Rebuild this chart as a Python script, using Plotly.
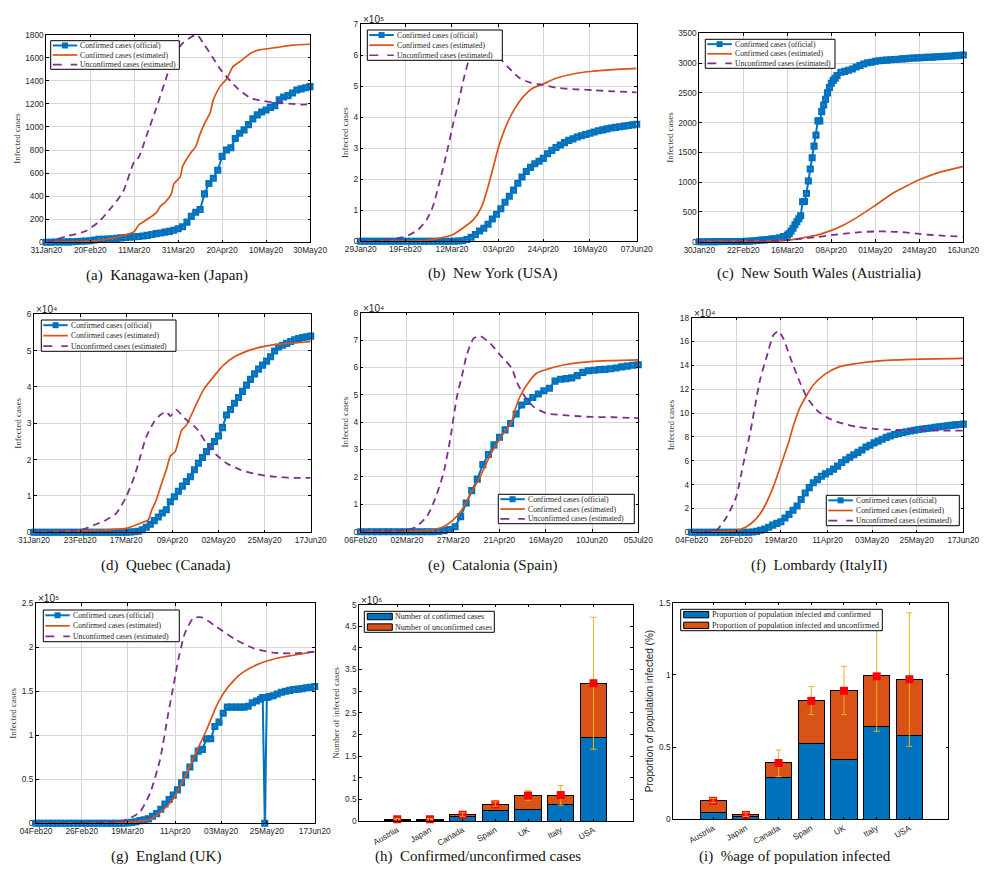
import plotly.graph_objects as go

W, H = 994, 869
BLUE, ORANGE, PURPLE, AMBER, RED = "#0072BD", "#D95319", "#7E2F8E", "#EDB120", "#FF0000"
TICK = "#262626"
SANS, SERIF = "Liberation Sans", "Liberation Serif"

LINE_LABELS = ["Confirmed cases (official)", "Confirmed cases (estimated)", "Unconfirmed cases (estimated)"]

# ---------------- (a) Kanagawa
a_ticks = ["31Jan20", "20Feb20", "11Mar20", "31Mar20", "20Apr20", "10May20", "30May20"]
a_tickdays = [0, 20, 40, 60, 80, 100, 120]
a_off_d = list(range(0, 121, 2))
a_off = [0,1,2,3,3,4,5,7,9,11,14,20,25,27,29,31,34,38,41,45,48,50,55,60,68,75,80,88,95,105,118,135,175,225,260,285,420,510,555,625,745,800,820,900,945,975,1020,1070,1105,1130,1147,1170,1185,1235,1260,1272,1295,1320,1330,1340,1350]
a_est_d = [0,20,30,40,42,46,50,52,54,57,58,61,62,65.5,68,70,72,74.5,76,79,82,85,88,93,97,105,112,120]
a_est = [0,10,35,92,150,200,255,315,345,425,505,570,655,770,830,940,1030,1120,1235,1350,1415,1525,1565,1640,1668,1690,1710,1717]
a_unc_d = [0,9,18,24,30,35,40,42,46,50,55,58,62,68.4,72,77,80,87,93,99,105,112,117,120]
a_unc = [0,50,98,180,310,440,700,735,945,1160,1450,1625,1725,1800,1710,1565,1480,1335,1250,1225,1210,1200,1193,1205]

# ---------------- (b) New York (x 10^5)
b_ticks = ["29Jan20", "19Feb20", "12Mar20", "03Apr20", "24Apr20", "16May20", "07Jun20"]
b_tickdays = [0, 21, 43, 65, 86, 108, 130]
b_off_d = list(range(0, 131, 2))
b_off = [0,0,0,0,0,0,0,0,0,0,0,0,0,0,0,0,0,0,0,0,0,0,0,.01,.02,.06,.13,.22,.33,.42,.55,.72,.87,1.05,1.26,1.45,1.65,1.87,2.07,2.25,2.38,2.5,2.58,2.67,2.82,2.93,3.02,3.1,3.18,3.25,3.3,3.36,3.4,3.44,3.48,3.52,3.56,3.59,3.62,3.65,3.67,3.69,3.71,3.73,3.75,3.77]
b_est_d = [0,30,37,43,48,53,57,60,62.5,65,69,72.7,76.6,81,86,92,100,108,119,130]
b_est = [0,.02,.1,.2,.42,.69,1.12,1.76,2.4,3.05,3.8,4.29,4.66,4.93,5.07,5.25,5.39,5.47,5.53,5.57]
b_unc_d = [0,10.7,21,27,31,34,37,40.5,43.6,46,48.4,50.7,53,56,61,66.4,70,75,80,86,92,100,109.6,119,130]
b_unc = [0,.04,.15,.37,.69,1.12,1.87,2.84,3.8,4.45,5.2,5.79,6.22,6.49,6.33,5.84,5.57,5.25,5.11,5.04,4.95,4.9,4.87,4.83,4.8]

# ---------------- (c) New South Wales
c_ticks = ["30Jan20", "22Feb20", "16Mar20", "08Apr20", "01May20", "24May20", "16Jun20"]
c_tickdays = [0, 23, 46, 69, 92, 115, 138]
c_off_d = list(range(0, 46, 2)) + list(range(46, 72)) + list(range(72, 139, 2))
c_off = [0,0,0,0,1,2,3,4,4,4,4,4,5,8,14,20,26,30,38,48,55,65,85,
         110,135,180,225,285,335,385,435,670,675,810,1020,1220,1410,1605,1790,2030,2030,2185,2295,2390,2500,2590,2660,2710,2745,
         2790,2845,2860,2880,2900,2935,2960,2985,3005,3015,3030,3040,3045,3050,3055,3060,3065,3070,3075,3080,3085,3088,3090,3095,3098,3100,3105,3108,3112,3115,3120,3125,3130,3135]
c_est_d = [0,23,46,55,62,69,76,82,92,100,108,115,125,138]
c_est = [0,8,25,70,115,190,290,400,610,790,930,1040,1160,1265]
c_unc_d = [0,23,46,55,62,69,76,84,92,100,108,115,125,138]
c_unc = [0,6,25,55,80,110,135,160,172,170,155,130,105,85]

# ---------------- (d) Quebec (x 10^4)
d_ticks = ["31Jan20", "23Feb20", "17Mar20", "09Apr20", "02May20", "25May20", "17Jun20"]
d_tickdays = [0, 23, 46, 69, 92, 115, 138]
d_off_d = list(range(0, 139, 2))
d_off = [0,0,0,0,0,0,0,0,0,0,0,0,0,0,0,0,0,0,0,0,0,0,0,.005,.01,.015,.03,
         .07,.14,.22,.32,.42,.53,.62,.84,.98,1.13,1.27,1.4,1.53,1.72,1.9,2.06,2.22,2.36,2.5,2.65,2.88,3.23,3.38,3.55,3.71,3.88,4.05,4.21,4.36,4.49,4.6,4.71,4.83,4.99,5.1,5.15,5.2,5.25,5.3,5.33,5.36,5.38,5.4]
d_est_d = [0,23,46,53,57,58.7,61,63.7,66,68,70.4,73.7,76,80.4,84.5,91,94.5,100,108,116,126,138]
d_est = [0,.04,.11,.25,.34,.61,.89,1.35,1.72,2.1,2.22,2.82,2.95,3.46,3.92,4.38,4.6,4.83,5.02,5.13,5.2,5.25]
d_unc_d = [0,23,30,36,41,46,50,53,56,60,63,66,68,71,75,81,86,91,96,103,111,119.5,129.5,138]
d_unc = [0,.06,.2,.34,.52,.98,1.53,2.08,2.63,3.05,3.23,3.32,3.2,3.37,3.14,2.86,2.45,2.13,1.9,1.72,1.6,1.53,1.5,1.5]

# ---------------- (e) Catalonia (x 10^4)
e_ticks = ["06Feb20", "02Mar20", "27Mar20", "21Apr20", "16May20", "10Jun20", "05Jul20"]
e_tickdays = [0, 25, 50, 75, 100, 125, 150]
e_off_d = list(range(0, 151, 3))
e_off = [0,0,0,0,0,0,0,0,0,0,0,0,0,0,.01,.04,
         .08,.18,.55,1.05,1.5,1.92,2.45,2.82,3.17,3.45,3.72,3.95,4.3,4.63,4.76,4.9,5.03,5.15,5.24,5.5,5.57,5.59,5.62,5.7,5.82,5.88,5.9,5.92,5.93,5.95,5.98,6.02,6.05,6.08,6.1]
e_est_d = [0,25,37.5,44.7,50,54.6,59,64.5,70,75.3,81.6,83.4,86,89.7,95,100.5,109.5,124,136.6,150]
e_est = [0,.01,.06,.18,.43,.79,1.34,2.0,2.8,3.41,4.02,4.45,4.93,5.36,5.79,5.93,6.09,6.21,6.25,6.28]
e_unc_d = [0,25,30,35.7,40,44.7,48.3,52,54.6,57.3,61,64.5,70,75.3,81.6,84.3,88,93.3,100.5,109.5,122,136.6,150]
e_unc = [0,.06,.18,.55,1.16,2.13,3.35,4.93,5.66,6.46,7.06,7.15,6.88,6.46,5.97,5.48,5.0,4.57,4.32,4.26,4.2,4.18,4.15]

# ---------------- (f) Lombardy (x 10^4)
f_ticks = ["04Feb20", "26Feb20", "19Mar20", "11Apr20", "03May20", "25May20", "17Jun20"]
f_tickdays = [0, 22, 44, 67, 89, 111, 134]
f_off_d = list(range(0, 135, 2))
f_off = [0,0,0,0,0,0,0,0,0,0,0,0,0,0,0,
         .02,.08,.17,.28,.42,.6,.75,.89,1.2,1.5,1.85,2.2,2.75,3.3,3.75,4.15,4.42,4.7,4.9,5.08,5.3,5.55,5.85,6.08,6.3,6.5,6.7,6.9,7.15,7.3,7.5,7.65,7.8,7.96,8.08,8.2,8.28,8.37,8.44,8.5,8.56,8.62,8.67,8.71,8.75,8.8,8.84,8.89,8.93,8.97,9.01,9.04,9.07]
f_est_d = [0,22,27,32,35.4,40.3,44,47.7,50,53.5,60,65.8,73,81.4,91.3,107.7,134]
f_est = [0,.14,.47,1.17,2.0,3.83,5.64,7.46,8.85,10.5,12.35,13.27,13.9,14.16,14.36,14.5,14.58]
f_unc_d = [0,12.3,17.3,22,25.5,28.8,33.7,37,40.3,42.8,45.2,48.5,52.6,56.7,61.7,66.6,73,81.4,91.3,102.8,116,134]
f_unc = [0,.2,1.31,3.0,5.78,8.3,12.77,14.72,16.54,16.87,16.26,14.72,12.9,11.37,10.25,9.64,9.19,8.85,8.66,8.58,8.55,8.52]

# ---------------- (g) England (x 10^5)
g_ticks = ["04Feb20", "26Feb20", "19Mar20", "11Apr20", "03May20", "25May20", "17Jun20"]
g_tickdays = [0, 22, 44, 67, 89, 111, 134]
g_off_d = list(range(0, 109, 2)) + [109, 110, 111] + list(range(112, 135, 2))
g_off = [0,0,0,0,0,0,0,0,0,0,0,0,0,0,0,0,0,0,0,0,0,0,
         .005,.01,.018,.03,.04,.05,.08,.11,.16,.22,.27,.32,.38,.46,.55,.64,.74,.82,.84,.96,.96,1.1,1.15,1.25,1.32,1.32,1.32,1.32,1.32,1.33,1.37,1.39,1.41,
         1.43,0,1.43,
         1.44,1.45,1.47,1.49,1.5,1.51,1.52,1.525,1.53,1.54,1.545,1.555]
g_est_d = [0,44,54.8,61,66,72.4,77,82,86.9,91.7,98,106,115.7,123.7,134]
g_est = [0,.01,.045,.15,.28,.57,.81,1.06,1.34,1.53,1.69,1.8,1.875,1.91,1.95]
g_unc_d = [0,37,44,50,54.8,59.6,63.6,66,68.4,71.6,75.6,79.6,86.9,96.5,104.5,114,123.7,134]
g_unc = [0,.015,.045,.13,.34,.72,1.25,1.55,1.86,2.16,2.33,2.34,2.23,2.08,1.99,1.94,1.93,1.95]

# ---------------- (h) and (i) bars
countries = ["Austrlia", "Japan", "Canada", "Spain", "UK", "Italy", "USA"]
h_confirmed = [.015, .015, .105, .25, .27, .385, 1.92]
h_unconfirmed = [.02, .02, .055, .14, .33, .215, 1.27]
h_mark = [.04, .04, .145, .385, .59, .6, 3.185]
h_low = [.03, .03, .11, .34, .48, .37, 1.66]
h_high = [.06, .06, .19, .44, .71, .82, 4.71]
i_confirmed = [.048, .02, .29, .525, .415, .64, .58]
i_unconfirmed = [.082, .015, .10, .295, .48, .355, .385]
i_mark = [.128, .03, .39, .82, .89, .99, .97]
i_low = [.115, .02, .295, .725, .725, .61, .505]
i_high = [.145, .045, .48, .92, 1.06, 1.38, 1.43]
h_legend = ["Number of confirmed cases", "Number of unconfirmed cases"]
i_legend = ["Proportion of population infected and confirmed", "Proportion of population infected and unconfirmed"]

# panel geometry in page pixels: left, right, top, bottom
panels = [
 dict(box=(46.3,310,34.7,242.3), xmax=120, ymax=1800, dy=200, ticks=a_ticks, tdays=a_tickdays, series=(a_off_d,a_off,a_est_d,a_est,a_unc_d,a_unc), leg=(50.7,179.3,40.7,69.3), cap="(a)  Kanagawa-ken (Japan)", capx=167, capy=275, exp=None),
 dict(box=(360.7,636.7,24,241.3), xmax=130, ymax=7, dy=1, ticks=b_ticks, tdays=b_tickdays, series=(b_off_d,b_off,b_est_d,b_est,b_unc_d,b_unc), leg=(367.3,502.3,30,60.3), cap="(b)  New York (USA)", capx=492.5, capy=274, exp="⁵"),
 dict(box=(699.3,963.3,33.3,241.7), xmax=138, ymax=3500, dy=500, ticks=c_ticks, tdays=c_tickdays, series=(c_off_d,c_off,c_est_d,c_est,c_unc_d,c_unc), leg=(705.3,835,39.3,68.3), cap="(c)  New South Wales (Austrialia)", capx=818.7, capy=274, exp=None),
 dict(box=(34,310.7,314.3,532.3), xmax=138, ymax=6, dy=1, ticks=d_ticks, tdays=d_tickdays, series=(d_off_d,d_off,d_est_d,d_est,d_unc_d,d_unc), leg=(41.3,176,320,351.3), cap="(d)  Quebec (Canada)", capx=166, capy=565, exp="⁴"),
 dict(box=(360.7,638.3,312.7,531.7), xmax=150, ymax=8, dy=1, ticks=e_ticks, tdays=e_tickdays, series=(e_off_d,e_off,e_est_d,e_est,e_unc_d,e_unc), leg=(498.3,634.3,494.3,523.7), cap="(e)  Catalonia (Spain)", capx=492.5, capy=565, exp="⁴"),
 dict(box=(691.7,963.3,317.7,532.3), xmax=134, ymax=18, dy=2, ticks=f_ticks, tdays=f_tickdays, series=(f_off_d,f_off,f_est_d,f_est,f_unc_d,f_unc), leg=(826.3,959.3,495.3,525.7), cap="(f)  Lombardy (ItalyII)", capx=819, capy=565, exp="⁴"),
 dict(box=(36,314.7,603.3,823.3), xmax=134, ymax=2.5, dy=.5, ticks=g_ticks, tdays=g_tickdays, series=(g_off_d,g_off,g_est_d,g_est,g_unc_d,g_unc), leg=(43.3,179.3,610,641.7), cap="(g)  England (UK)", capx=166, capy=856, exp="⁵"),
]

fig = go.Figure()
shapes, annos = [], []
px = lambda v: v / W
py = lambda v: 1 - v / H


def base_axes(n, box):
    L, R, T, B = box
    s = "" if n == 1 else str(n)
    common = dict(showline=True, linecolor="black", linewidth=1, mirror="ticks", ticks="inside", automargin=False,
                  ticklen=2.5, tickcolor="black", tickfont=dict(family=SANS, size=8.3, color=TICK), zeroline=False)
    return s, dict(domain=[px(L), px(R)], anchor="y" + s, **common), dict(domain=[py(B), py(T)], anchor="x" + s, **common)


def text(x, y, t, size, family=SERIF, anchor="left", color=TICK, va="middle"):
    annos.append(dict(xref="paper", yref="paper", x=px(x), y=py(y), text=t, showarrow=False, xanchor=anchor, yanchor=va,
                      font=dict(family=family, size=size, color=color), borderpad=0))


def legend_frame(leg, labels):
    L, R, T, B = leg
    shapes.append(dict(type="rect", xref="paper", yref="paper", x0=px(L), x1=px(R), y0=py(T), y1=py(B),
                       fillcolor="white", line=dict(color="black", width=1), layer="above"))
    return [T + (B - T) * (i + .5) / len(labels) for i in range(len(labels))]


def line_legend(leg):
    L, R, T, B = leg
    rows = legend_frame(leg, LINE_LABELS)
    k0, k1 = L + 2, L + 26.5
    styles = [(BLUE, "solid", 2), (ORANGE, "solid", 1.7), (PURPLE, "dash", 1.7)]
    for (c, dash, w), y, lab in zip(styles, rows, LINE_LABELS):
        shapes.append(dict(type="line", xref="paper", yref="paper", x0=px(k0), x1=px(k1), y0=py(y), y1=py(y),
                           line=dict(color=c, width=w, dash=dash), layer="above"))
        text(k1 + 2, y, lab, 7.7)
    ym, xm = rows[0], (k0 + k1) / 2
    shapes.append(dict(type="rect", xref="paper", yref="paper", x0=px(xm - 3), x1=px(xm + 3), y0=py(ym - 3), y1=py(ym + 3),
                       fillcolor=BLUE, line=dict(width=0), layer="above"))


for n, p in enumerate(panels, 1):
    s, xa, ya = base_axes(n, p["box"])
    od, o, ed, e, ud, u = p["series"]
    xa.update(range=[0, p["xmax"]], tickvals=p["tdays"], ticktext=p["ticks"], showgrid=True, gridcolor="#d6d6d6", gridwidth=1.3)
    yt = [i * p["dy"] for i in range(int(round(p["ymax"] / p["dy"])) + 1)]
    ya.update(range=[0, p["ymax"]], tickvals=yt, ticktext=[f"{v:g}" for v in yt], showgrid=True, gridcolor="#d6d6d6", gridwidth=1.3,
              title=dict(text="Infected cases", font=dict(family=SERIF, size=9, color="#404040"), standoff=3))
    fig.layout["xaxis" + s] = xa
    fig.layout["yaxis" + s] = ya
    fig.add_trace(go.Scatter(x=od, y=o, xaxis="x" + s, yaxis="y" + s, mode="lines+markers", cliponaxis=False, showlegend=False,
                             line=dict(color=BLUE, width=2),
                             marker=dict(symbol="square-open", size=4.5, color=BLUE, line=dict(color=BLUE, width=2.6))))
    fig.add_trace(go.Scatter(x=ed, y=e, xaxis="x" + s, yaxis="y" + s, mode="lines", showlegend=False,
                             line=dict(color=ORANGE, width=1.7, shape="spline", smoothing=.6)))
    fig.add_trace(go.Scatter(x=ud, y=u, xaxis="x" + s, yaxis="y" + s, mode="lines", showlegend=False,
                             line=dict(color=PURPLE, width=1.8, dash="7px,5px", shape="spline", smoothing=.6)))
    line_legend(p["leg"])
    text(p["capx"], p["capy"], p["cap"], 15, anchor="center", color="#111111")
    if p["exp"]:
        L, R, T, B = p["box"]
        text(L + 1, T - 4.5, f"×10{p['exp']}", 10, family=SANS)

# bar panels
bars = [
 dict(n=8, box=(359.3,632.7,604.7,821), xr=[-1.16,7.2], ymax=5, dy=.5, conf=h_confirmed, unc=h_unconfirmed, mark=h_mark, low=h_low, high=h_high, over=4, lsize=8.05,
      labels=h_legend, leg=(364.3,494.3,611.3,632.3), title="Number of infected cases", tfont=dict(family=SERIF, size=9, color="#404040"),
      cap="(h)  Confirmed/unconfirmed cases", capx=478, capy=856, exp="⁶"),
 dict(n=9, box=(673.3,948.3,602.7,819.3), xr=[-1.22,7.19], ymax=1.5, dy=.5, conf=i_confirmed, unc=i_unconfirmed, mark=i_mark, low=i_low, high=i_high, over=2, lsize=8.2,
      labels=i_legend, leg=(680.7,882.3,609.3,630.7), title="Proportion of population infected (%)", tfont=dict(family=SANS, size=10, color=TICK),
      cap="(i)  %age of population infected", capx=795, capy=856, exp=None),
]
for b in bars:
    s, xa, ya = base_axes(b["n"], b["box"])
    idx = list(range(len(countries)))
    xa.update(range=b["xr"], tickmode="array", tickvals=idx, ticktext=countries, tickangle=-30, showgrid=False)
    yt = [i * b["dy"] for i in range(int(round(b["ymax"] / b["dy"])) + 1)]
    ya.update(range=[0, b["ymax"]], tickvals=yt, ticktext=[f"{v:g}" for v in yt], showgrid=False,
              title=dict(text=b["title"], font=b["tfont"], standoff=3))
    fig.layout["xaxis" + s] = xa
    fig.layout["yaxis" + s] = ya
    fig.add_trace(go.Bar(x=idx, y=b["conf"], xaxis="x" + s, yaxis="y" + s, width=.8, marker=dict(color=BLUE, line=dict(color="black", width=1)), showlegend=False))
    fig.add_trace(go.Bar(x=idx, y=b["unc"], xaxis="x" + s, yaxis="y" + s, width=.8, marker=dict(color=ORANGE, line=dict(color="black", width=1)), showlegend=False))
    up = [h - m for h, m in zip(b["high"], b["mark"])]
    dn = [m - l for m, l in zip(b["mark"], b["low"])]
    fig.add_trace(go.Scatter(x=idx, y=b["mark"], xaxis="x" + s, yaxis="y" + s, mode="markers", showlegend=False, cliponaxis=False,
                             marker=dict(symbol="square", size=8, color=RED),
                             error_y=dict(type="data", symmetric=False, array=up, arrayminus=dn, color=AMBER, thickness=1, width=3)))
    k = b["over"]
    fig.add_trace(go.Scatter(x=idx[:k], y=b["mark"][:k], xaxis="x" + s, yaxis="y" + s, mode="markers", showlegend=False, cliponaxis=False,
                             marker=dict(symbol="square", size=1, color="rgba(0,0,0,0)"),
                             error_y=dict(type="data", symmetric=False, array=up[:k], arrayminus=dn[:k], color=AMBER, thickness=1, width=3)))
    rows = legend_frame(b["leg"], b["labels"])
    L = b["leg"][0]
    for y, c, lab in zip(rows, (BLUE, ORANGE), b["labels"]):
        shapes.append(dict(type="rect", xref="paper", yref="paper", x0=px(L + 3), x1=px(L + 28), y0=py(y - 3.2), y1=py(y + 3.2),
                           fillcolor=c, line=dict(color="black", width=1), layer="above"))
        text(L + 30, y, lab, b["lsize"])
    text(b["capx"], b["capy"], b["cap"], 15, anchor="center", color="#111111")
    if b["exp"]:
        text(b["box"][0] + 1, b["box"][2] - 4.5, f"×10{b['exp']}", 10, family=SANS)

fig.update_layout(template="none", width=W, height=H, margin=dict(l=0, r=0, t=0, b=0, autoexpand=False), barmode="stack", paper_bgcolor="white", plot_bgcolor="white",
                  showlegend=False, shapes=shapes, annotations=annos, hovermode=False)
fig.write_html("out.html", config={"displayModeBar": False},
               post_script="document.body.style.margin='0';")
